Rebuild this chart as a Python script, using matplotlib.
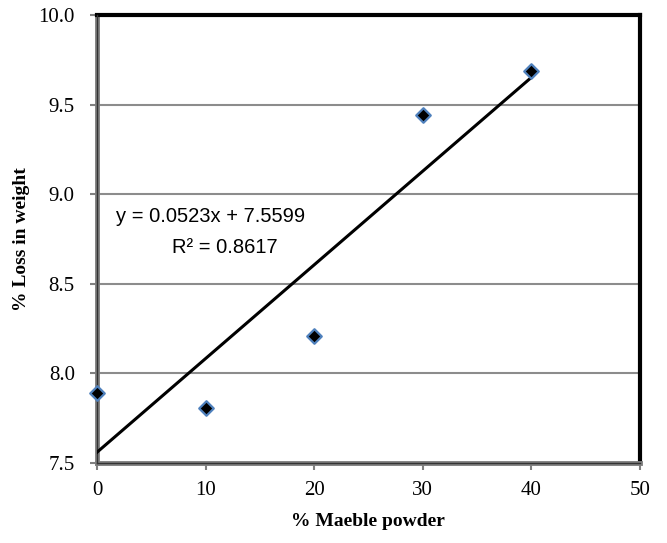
import matplotlib

matplotlib.use("Agg")
import matplotlib.pyplot as plt
import numpy as np

# data
marble_pct = [0, 10, 20, 30, 40]
loss_pct = [7.89, 7.805, 8.21, 9.44, 9.685]
slope, intercept = 0.0523, 7.5599
x_ticks = [0, 10, 20, 30, 40, 50]
y_ticks = [7.5, 8.0, 8.5, 9.0, 9.5, 10.0]

fig = plt.figure(figsize=(6.67, 5.43), dpi=100)
ax = fig.add_axes([97 / 667, 1 - 463 / 543, (640 - 97) / 667, (463 - 15) / 543])

ax.set_xlim(0, 50)
ax.set_ylim(7.5, 10.0)
ax.set_xticks(x_ticks)
ax.set_yticks(y_ticks)
ax.set_yticklabels([f"{v:.1f}" for v in y_ticks])
for lab in ax.get_xticklabels() + ax.get_yticklabels():
    lab.set_fontfamily("Liberation Serif")
    lab.set_fontsize(15)
ax.tick_params(direction="out", length=5, width=1.5, color="#808080")
ax.tick_params(axis="y", pad=11)
ax.tick_params(axis="x", pad=8)

# grid (horizontal only)
for v in y_ticks[1:-1]:
    ax.axhline(v, color="#8c8c8c", lw=1.5, zorder=0)

# spines: grey/black double for left & bottom, black for top & right
for side in ("left", "bottom"):
    ax.spines[side].set_color("#7f7f7f")
    ax.spines[side].set_linewidth(3.5)
for side in ("top", "right"):
    ax.spines[side].set_color("black")
    ax.spines[side].set_linewidth(3)
ax.axvline(0, color="#333333", lw=1, zorder=3, clip_on=False)
ax.axhline(7.5, color="#333333", lw=1, zorder=3, clip_on=False)

# trendline
xs = np.array([marble_pct[0], marble_pct[-1]])
ax.plot(xs, slope * xs + intercept, color="black", lw=2.2, zorder=4)

ax.scatter(marble_pct, loss_pct, marker="D", s=55, facecolor="black",
           edgecolor="#4f81bd", linewidth=1.6, zorder=5, clip_on=False)

ax.text(211 / 667, 1 - 216 / 543, "y = 0.0523x + 7.5599", transform=fig.transFigure,
        ha="center", va="center", fontsize=14.5, fontfamily="Liberation Sans")
ax.text(225 / 667, 1 - 248 / 543, "R² = 0.8617", transform=fig.transFigure,
        ha="center", va="center", fontsize=14.5, fontfamily="Liberation Sans")

fig.text(368 / 667, 1 - 521 / 543, "% Maeble powder", ha="center", va="center",
         fontsize=14, fontweight="bold", fontfamily="Liberation Serif")
fig.text(22 / 667, 1 - 239 / 543, "% Loss in weight", ha="center", va="center",
         rotation=90, fontsize=14, fontweight="bold", fontfamily="Liberation Serif")

fig.savefig("out.png", dpi=100)
